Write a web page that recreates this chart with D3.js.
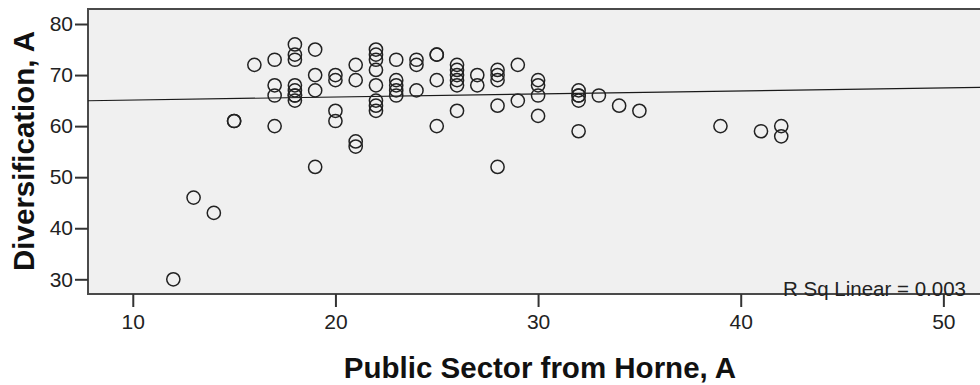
<!DOCTYPE html>
<html>
<head>
<meta charset="utf-8">
<script src="https://cdn.jsdelivr.net/npm/d3@7"></script>
<style>
  html, body { margin: 0; padding: 0; background: #ffffff; }
  svg { display: block; font-family: "Liberation Sans", Arial, sans-serif; }
</style>
</head>
<body>
<svg id="chart" width="980" height="385"></svg>
<script>
// Scatter of Diversification, A against Public Sector from Horne, A
const publicSector = [
  12, 13, 14, 15, 15, 16,
  17, 17, 17, 17,
  18, 18, 18, 18, 18, 18, 18, 18,
  19, 19, 19, 19,
  20, 20, 20, 20,
  21, 21, 21, 21,
  22, 22, 22, 22, 22, 22, 22, 22,
  23, 23, 23, 23, 23,
  24, 24, 24,
  25, 25, 25, 25,
  26, 26, 26, 26, 26, 26,
  27, 27,
  28, 28, 28, 28, 28,
  29, 29,
  30, 30, 30, 30,
  32, 32, 32, 32, 32,
  33, 34, 35, 39, 41, 42, 42
];
const diversification = [
  30, 46, 43, 61, 61, 72,
  73, 68, 66, 60,
  76, 74, 73, 68, 67, 66, 66, 65,
  75, 70, 67, 52,
  70, 69, 63, 61,
  72, 69, 57, 56,
  75, 74, 73, 71, 68, 65, 64, 63,
  73, 69, 68, 67, 66,
  73, 72, 67,
  74, 74, 69, 60,
  72, 71, 70, 69, 68, 63,
  70, 68,
  71, 70, 69, 64, 52,
  72, 65,
  69, 68, 66, 62,
  67, 66, 66, 65, 59,
  66, 64, 63, 60, 59, 60, 58
];
const xTicks = [10, 20, 30, 40, 50];
const yTicks = [30, 40, 50, 60, 70, 80];
// Linear fit reported with the chart
const fitIntercept = 64.5;
const fitSlope = 0.06;
const rSquaredLabel = "R Sq Linear = 0.003";
const xTitle = "Public Sector from Horne, A";
const yTitle = "Diversification, A";

const svg = d3.select("#chart");
const plot = { left: 88, top: 9, right: 992, bottom: 294 };

const x = d3.scaleLinear().domain([7.79, 52.4]).range([plot.left, plot.right]);
const y = d3.scaleLinear().domain([27.12, 82.94]).range([plot.bottom, plot.top]);

// plot background
svg.append("rect")
  .attr("x", plot.left).attr("y", plot.top)
  .attr("width", plot.right - plot.left).attr("height", plot.bottom - plot.top)
  .attr("fill", "#f0f0f0")
  .attr("stroke", "#4a4a4a").attr("stroke-width", 2);

const g = svg.append("g");

// fit line
const xd = x.domain();
g.append("line")
  .attr("x1", x(xd[0])).attr("y1", y(fitIntercept + fitSlope * xd[0]))
  .attr("x2", x(xd[1])).attr("y2", y(fitIntercept + fitSlope * xd[1]))
  .attr("stroke", "#1a1a1a").attr("stroke-width", 1.2);

// points
g.selectAll("circle.pt")
  .data(publicSector.map((v, i) => [v, diversification[i]]))
  .join("circle")
  .attr("class", "pt")
  .attr("cx", d => x(d[0]))
  .attr("cy", d => y(d[1]))
  .attr("r", 6.6)
  .attr("fill", "none")
  .attr("stroke", "#222")
  .attr("stroke-width", 1.5);

// axes
const yAxis = svg.append("g")
  .attr("transform", `translate(${plot.left},0)`)
  .call(d3.axisLeft(y).tickValues(yTicks).tickSize(13).tickPadding(2).tickSizeOuter(0));
const xAxis = svg.append("g")
  .attr("transform", `translate(0,${plot.bottom})`)
  .call(d3.axisBottom(x).tickValues(xTicks).tickSize(13).tickPadding(7).tickSizeOuter(0));

[xAxis, yAxis].forEach(a => {
  a.select(".domain").remove();
  a.selectAll(".tick line").attr("stroke", "#333").attr("stroke-width", 2);
  a.selectAll(".tick text")
    .attr("fill", "#222")
    .style("font-size", "21px");
});

// R squared label sits on the bottom edge
svg.append("text")
  .attr("x", 966).attr("y", 296)
  .attr("text-anchor", "end")
  .attr("fill", "#222")
  .style("font-size", "20.5px")
  .text(rSquaredLabel);

// titles
svg.append("text")
  .attr("x", 540).attr("y", 378)
  .attr("text-anchor", "middle")
  .attr("fill", "#111")
  .style("font-size", "29.5px").style("font-weight", "bold")
  .text(xTitle);

svg.append("text")
  .attr("transform", `translate(34,151) rotate(-90)`)
  .attr("text-anchor", "middle")
  .attr("fill", "#111")
  .style("font-size", "29.5px").style("font-weight", "bold")
  .text(yTitle);
</script>
</body>
</html>
